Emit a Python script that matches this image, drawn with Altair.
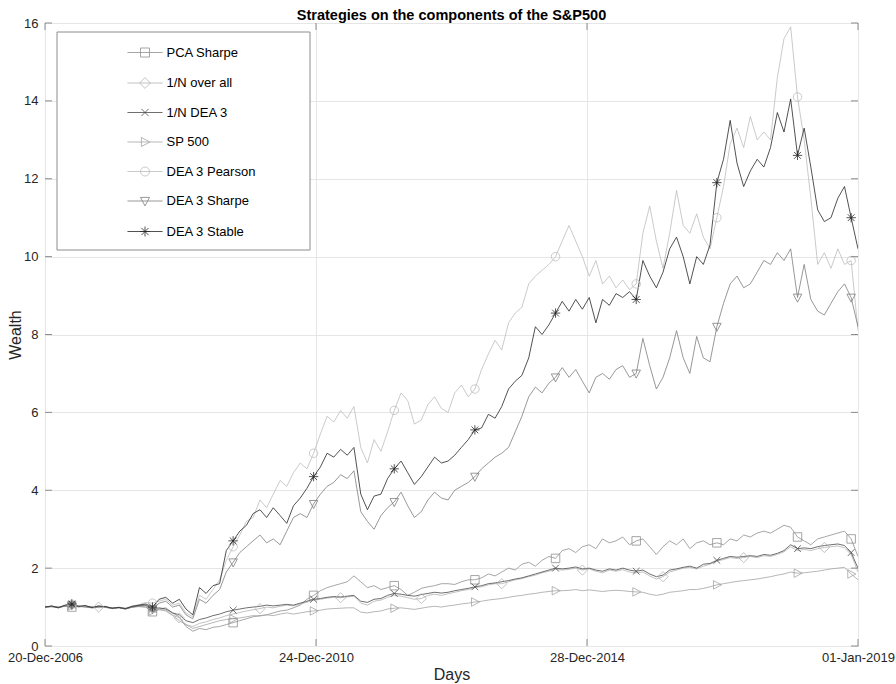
import altair as alt
import pandas as pd

# ---------------- data ----------------
series_names = ["PCA Sharpe", "1/N over all", "1/N DEA 3", "SP 500",
                "DEA 3 Pearson", "DEA 3 Sharpe", "DEA 3 Stable"]

pca_sharpe = [1.00, 1.01, 0.98, 1.03, 1.00, 1.02, 1.00, 0.98, 1.01, 0.99,
              0.96, 0.98, 0.95, 1.00, 1.02, 1.00, 0.88, 0.95, 0.98, 0.85,
              0.75, 0.50, 0.38, 0.45, 0.42, 0.48, 0.50, 0.55, 0.60, 0.65,
              0.70, 0.75, 0.78, 0.80, 0.85, 0.90, 0.92, 0.98, 1.05, 1.20,
              1.30, 1.42, 1.50, 1.55, 1.60, 1.65, 1.80, 1.65, 1.50, 1.55,
              1.45, 1.50, 1.55, 1.45, 1.30, 1.38, 1.48, 1.52, 1.55, 1.60,
              1.60, 1.58, 1.65, 1.70, 1.70, 1.75, 1.85, 1.80, 1.90, 2.00,
              1.95, 2.10, 2.15, 2.05, 2.20, 2.30, 2.25, 2.45, 2.50, 2.40,
              2.55, 2.60, 2.50, 2.75, 2.65, 2.70, 2.80, 2.60, 2.70, 2.75,
              2.55, 2.35, 2.55, 2.70, 2.60, 2.75, 2.50, 2.65, 2.70, 2.60,
              2.65, 2.60, 2.75, 2.70, 2.85, 2.80, 2.90, 2.95, 2.90, 3.00,
              3.10, 3.05, 2.80, 2.70, 2.60, 2.75, 2.80, 2.85, 2.90, 2.95,
              2.75, 2.30]

one_over_n_all = [1.00, 1.01, 0.99, 1.02, 1.04, 1.00, 1.02, 0.98, 1.00, 1.01,
                  0.96, 0.98, 0.95, 1.00, 1.02, 1.03, 0.92, 0.95, 0.92, 0.80,
                  0.72, 0.55, 0.50, 0.58, 0.62, 0.68, 0.72, 0.78, 0.82, 0.86,
                  0.90, 0.93, 0.96, 1.00, 0.98, 1.02, 1.05, 1.03, 1.08, 1.12,
                  1.18, 1.20, 1.23, 1.25, 1.24, 1.26, 1.28, 1.10, 1.05, 1.15,
                  1.18, 1.25, 1.30, 1.28, 1.24, 1.20, 1.22, 1.30, 1.33, 1.30,
                  1.34, 1.38, 1.42, 1.45, 1.50, 1.52, 1.57, 1.60, 1.60, 1.65,
                  1.70, 1.73, 1.78, 1.82, 1.88, 1.92, 1.97, 1.95, 1.97, 2.00,
                  1.95, 1.98, 1.92, 1.88, 1.95, 1.92, 1.96, 1.90, 1.88, 1.90,
                  1.80, 1.72, 1.78, 1.90, 1.95, 2.00, 2.02, 1.98, 2.05, 2.10,
                  2.18, 2.22, 2.27, 2.25, 2.27, 2.30, 2.27, 2.32, 2.30, 2.35,
                  2.42, 2.55, 2.45, 2.48, 2.45, 2.50, 2.53, 2.55, 2.57, 2.52,
                  2.35, 1.90]

one_over_n_dea3 = [1.00, 1.02, 1.00, 1.03, 1.05, 1.02, 1.01, 0.99, 1.02, 1.00,
                   0.97, 0.99, 0.96, 1.01, 1.03, 1.05, 0.95, 0.98, 0.95, 0.85,
                   0.80, 0.65, 0.60, 0.68, 0.72, 0.78, 0.82, 0.88, 0.92, 0.95,
                   0.98, 1.00, 1.02, 1.05, 1.03, 1.05, 1.07, 1.05, 1.10, 1.15,
                   1.20, 1.22, 1.25, 1.27, 1.26, 1.28, 1.30, 1.15, 1.12, 1.20,
                   1.22, 1.30, 1.35, 1.33, 1.30, 1.28, 1.32, 1.35, 1.38, 1.36,
                   1.38, 1.42, 1.45, 1.48, 1.52, 1.55, 1.60, 1.62, 1.65, 1.68,
                   1.72, 1.75, 1.80, 1.85, 1.90, 1.95, 2.00, 1.98, 2.00, 2.03,
                   1.98, 2.00, 1.95, 1.92, 1.98, 1.95, 2.00, 1.95, 1.92, 1.95,
                   1.85, 1.78, 1.82, 1.95, 1.98, 2.02, 2.05, 2.00, 2.10, 2.12,
                   2.20, 2.25, 2.30, 2.28, 2.30, 2.32, 2.30, 2.35, 2.33, 2.38,
                   2.45, 2.60, 2.50, 2.52, 2.50, 2.55, 2.58, 2.60, 2.62, 2.58,
                   2.40, 2.00]

sp500 = [1.00, 1.01, 0.99, 1.02, 1.03, 1.01, 1.02, 1.00, 1.01, 1.00,
         0.98, 0.99, 0.97, 1.00, 1.01, 1.00, 0.90, 0.93, 0.90, 0.78,
         0.65, 0.55, 0.45, 0.50, 0.55, 0.60, 0.65, 0.68, 0.70, 0.72,
         0.75, 0.78, 0.77, 0.80, 0.78, 0.82, 0.85, 0.82, 0.85, 0.88,
         0.90, 0.92, 0.95, 0.96, 0.97, 0.98, 0.98, 0.87, 0.85, 0.88,
         0.90, 0.95, 0.97, 0.98, 0.96, 0.94, 0.97, 1.00, 1.02, 1.00,
         1.03, 1.05, 1.08, 1.10, 1.13, 1.15, 1.18, 1.20, 1.22, 1.25,
         1.28, 1.30, 1.33, 1.35, 1.38, 1.40, 1.42, 1.42, 1.43, 1.45,
         1.42, 1.44, 1.42, 1.40, 1.42, 1.43, 1.42, 1.40, 1.39, 1.38,
         1.33, 1.30, 1.33, 1.38, 1.40, 1.42, 1.45, 1.45, 1.48, 1.52,
         1.57, 1.60, 1.63, 1.66, 1.68, 1.70, 1.72, 1.75, 1.78, 1.82,
         1.85, 1.90, 1.87, 1.88, 1.90, 1.92, 1.95, 1.98, 2.00, 2.02,
         1.85, 1.70]

dea3_pearson = [1.00, 1.02, 1.00, 1.04, 1.07, 1.03, 1.00, 1.02, 0.98, 1.01,
                0.96, 1.00, 0.97, 1.03, 1.06, 1.12, 1.10, 1.15, 1.20, 1.05,
                1.10, 0.85, 0.75, 1.30, 1.20, 1.45, 1.70, 2.20, 2.55, 2.85,
                3.20, 3.30, 3.75, 3.55, 3.90, 4.25, 4.10, 4.45, 4.70, 4.55,
                4.95, 5.45, 5.90, 5.75, 6.05, 5.85, 6.15, 5.10, 4.70, 5.30,
                5.00, 5.50, 6.05, 6.50, 6.30, 5.70, 5.80, 6.20, 6.40, 6.10,
                6.00, 6.50, 6.70, 6.40, 6.60, 7.10, 7.50, 7.85, 7.60, 8.30,
                8.55, 8.70, 9.30, 9.50, 9.65, 9.80, 10.00, 10.40, 10.80, 10.40,
                10.00, 9.50, 9.90, 9.30, 9.50, 9.20, 9.40, 9.15, 9.30, 10.60,
                11.30, 10.40, 9.70, 10.60, 11.70, 10.80, 10.60, 11.10, 10.50, 10.20,
                11.00, 11.80, 12.90, 13.30, 12.80, 13.60, 13.00, 13.20, 13.00, 14.60,
                15.60, 15.90, 14.10, 13.00, 11.50, 9.80, 10.10, 9.70, 10.20, 9.80,
                9.90, 8.10]

dea3_sharpe = [1.00, 1.02, 0.99, 1.03, 1.05, 1.01, 1.03, 0.98, 1.00, 1.02,
               0.97, 0.99, 0.95, 1.00, 1.03, 1.05, 0.95, 1.10, 1.15, 1.00,
               1.05, 0.80, 0.70, 1.20, 1.10, 1.30, 1.45, 1.90, 2.15, 2.40,
               2.55, 2.70, 2.85, 2.65, 2.75, 2.60, 2.95, 3.30, 3.40, 3.30,
               3.65, 3.90, 4.10, 4.20, 4.40, 4.30, 4.50, 3.45, 3.20, 3.00,
               3.35, 3.55, 3.70, 3.95, 3.60, 3.30, 3.45, 3.75, 3.95, 3.80,
               3.75, 4.00, 4.10, 4.20, 4.35, 4.55, 4.70, 4.85, 4.95, 5.10,
               5.50, 5.90, 6.40, 6.65, 6.50, 6.75, 6.90, 7.15, 6.90, 7.10,
               6.80, 6.50, 6.90, 7.00, 6.85, 7.10, 7.20, 6.90, 7.00, 7.90,
               7.20, 6.60, 6.90, 7.40, 8.10, 7.40, 7.00, 7.95, 7.40, 7.30,
               8.20, 8.80, 9.30, 9.50, 9.20, 9.30, 9.60, 9.90, 9.80, 10.10,
               9.90, 10.20, 8.95, 9.80, 8.90, 8.60, 8.50, 8.80, 9.10, 9.30,
               8.95, 8.20]

dea3_stable = [1.00, 1.03, 0.98, 1.05, 1.08, 1.02, 1.04, 0.99, 1.03, 1.01,
               0.97, 0.99, 0.96, 1.02, 1.05, 1.08, 1.00, 1.20, 1.25, 1.10,
               1.20, 0.95, 0.80, 1.50, 1.35, 1.55, 1.60, 2.45, 2.70, 2.95,
               3.10, 3.40, 3.50, 3.30, 3.55, 3.35, 3.15, 3.60, 3.80, 4.05,
               4.35, 4.60, 4.95, 4.85, 5.05, 4.90, 5.10, 3.90, 3.50, 3.85,
               3.90, 4.30, 4.55, 4.75, 4.45, 4.15, 4.35, 4.60, 4.85, 4.70,
               4.75, 4.90, 5.10, 5.30, 5.55, 5.60, 5.95, 5.85, 6.15, 6.60,
               6.80, 6.95, 7.40, 8.20, 8.00, 8.25, 8.55, 8.85, 8.60, 8.90,
               8.65, 8.95, 8.30, 8.90, 8.75, 9.05, 8.95, 9.10, 8.90, 9.90,
               9.50, 9.20, 9.60, 10.20, 10.50, 10.00, 9.30, 10.00, 9.80, 10.30,
               11.90, 12.50, 13.50, 12.40, 11.80, 12.20, 12.50, 12.30, 12.80, 13.70,
               13.20, 14.05, 12.60, 13.30, 12.30, 11.20, 10.90, 11.00, 11.50, 11.80,
               11.00, 10.20]

series_values = [pca_sharpe, one_over_n_all, one_over_n_dea3, sp500,
                 dea3_pearson, dea3_sharpe, dea3_stable]

# sample indices where each series carries a marker
marker_idx_main = [4, 16, 28, 40, 52, 64, 76, 88, 100, 112, 120]
marker_idx_diamond = [8, 20, 32, 44, 56, 68, 80, 92, 104, 116]
marker_indices = [marker_idx_main, marker_idx_diamond, marker_idx_main, marker_idx_main,
                  marker_idx_main, marker_idx_main, marker_idx_main]

start_date = "2006-12-20"
end_date = "2019-01-01"
tick_dates = ["2006-12-20", "2010-12-24", "2014-12-28", "2019-01-01"]
y_ticks = [0, 2, 4, 6, 8, 10, 12, 14, 16]

# ---------------- styles ----------------
grays = ["#8f8f8f", "#b3b3b3", "#4a4a4a", "#a3a3a3", "#bdbdbd", "#7d7d7d", "#262626"]
marker_paths = [
    "M-1,-1H1V1H-1Z",                                   # square
    "M0,-1.2L1.2,0L0,1.2L-1.2,0Z",                      # diamond
    "M-0.8,-0.8L0.8,0.8M-0.8,0.8L0.8,-0.8",             # x
    "M-0.8,-1L1.1,0L-0.8,1Z",                           # triangle right
    "M-1,0A1,1,0,1,1,1,0A1,1,0,1,1,-1,0Z",              # circle
    "M-1,-0.8H1L0,1.1Z",                                # triangle down
    "M0,-1.1V1.1M-1.1,0H1.1M-0.8,-0.8L0.8,0.8M-0.8,0.8L0.8,-0.8",  # asterisk
]
legend_line = "M-3.9,0H3.9"
legend_paths = [legend_line + p for p in marker_paths]

FONT = "Liberation Sans"
FRAME = "#8c8c8c"

# ---------------- tables ----------------
dates = list(pd.date_range(start_date, end_date, periods=len(pca_sharpe)).strftime("%Y-%m-%d"))
rows = []
for name, vals, midx in zip(series_names, series_values, marker_indices):
    for i, (d, v) in enumerate(zip(dates, vals)):
        rows.append({"date": d, "value": v, "series": name, "marker": i in midx})
df = pd.DataFrame(rows)

x_scale = alt.Scale(type="utc",
                    domain=[alt.DateTime(year=2006, month=12, date=20, utc=True),
                            alt.DateTime(year=2019, month=1, date=1, utc=True)])
y_scale = alt.Scale(domain=[0, 16], nice=False, zero=False)
color_scale = alt.Scale(domain=series_names, range=grays)

x_axis = alt.Axis(values=[alt.DateTime(year=int(t[:4]), month=int(t[5:7]), date=int(t[8:]), utc=True)
                          for t in tick_dates],
                  labelExpr="utcFormat(datum.value, '%d-%b-%Y')",
                  labelPadding=5, titlePadding=2, labelOverlap=False, labelFlush=False)
y_axis = alt.Axis(values=y_ticks, labelPadding=7, titlePadding=0)

X = alt.X("date:T", scale=x_scale, axis=x_axis, title="Days")
Y = alt.Y("value:Q", scale=y_scale, axis=y_axis, title="Wealth")

legend_def = alt.Legend(title=None, orient="none", legendX=93.5, legendY=23,
                        labelFont=FONT, labelFontSize=13, labelColor="#000000",
                        symbolSize=81, symbolStrokeWidth=0.8, rowPadding=15.5,
                        labelOffset=15, padding=0)
C = alt.Color("series:N", scale=color_scale, legend=legend_def)

lines = alt.Chart(df).mark_line(strokeWidth=0.8, clip=True).encode(
    x=X, y=Y, color=C, detail="series:N",
)

marker_layers = []
for name, path in zip(series_names, marker_paths):
    marker_layers.append(
        alt.Chart(df[(df["series"] == name) & (df["marker"])]).mark_point(
            shape=path, filled=False, size=72, strokeWidth=0.8, opacity=1
        ).encode(x=X, y=Y, color=C)
    )

legend_df = pd.DataFrame({"series": series_names})
legend_points = alt.Chart(legend_df).mark_point(filled=False, size=81, strokeWidth=0.8).encode(
    x=alt.value(120), y=alt.value(100),
    color=C,
    shape=alt.Shape("series:N", scale=alt.Scale(domain=series_names, range=legend_paths),
                    legend=legend_def),
)

legend_frame = alt.Chart(pd.DataFrame({"k": [0]})).mark_rect(
    fill="white", stroke=FRAME, strokeWidth=1
).encode(x=alt.value(12), x2=alt.value(265), y=alt.value(9), y2=alt.value(227))

ytick_df = pd.DataFrame({"value": y_ticks})
xtick_df = pd.DataFrame({"date": tick_dates})
tick_style = dict(color=FRAME, strokeWidth=1)
ticks_left = alt.Chart(ytick_df).mark_rule(**tick_style).encode(y=Y, x=alt.value(0), x2=alt.value(7))
ticks_right = alt.Chart(ytick_df).mark_rule(**tick_style).encode(y=Y, x=alt.value(806), x2=alt.value(813))
ticks_top = alt.Chart(xtick_df).mark_rule(**tick_style).encode(x=X, y=alt.value(0), y2=alt.value(7))
ticks_bottom = alt.Chart(xtick_df).mark_rule(**tick_style).encode(x=X, y=alt.value(616), y2=alt.value(623))

chart = alt.layer(
    lines, *marker_layers, legend_points, legend_frame,
    ticks_left, ticks_right, ticks_top, ticks_bottom,
).properties(
    width=813, height=623, autosize="none",
    padding={"left": 45, "top": 23, "right": 38, "bottom": 38},
    title=alt.Title("Strategies on the components of the S&P500", offset=3, dy=9),
).configure_view(
    stroke=FRAME, strokeWidth=1
).configure_axis(
    domain=False, ticks=False, grid=True, gridColor="#e6e6e6", gridWidth=1,
    labelFont=FONT, labelFontSize=13, labelColor="#262626",
    titleFont=FONT, titleFontSize=16, titleFontWeight="normal", titleColor="#262626",
).configure_title(
    font=FONT, fontSize=14.5, fontWeight="bold", color="#000000", anchor="middle",
)

chart.save("out.html", embed_options={"renderer": "svg", "actions": False})
